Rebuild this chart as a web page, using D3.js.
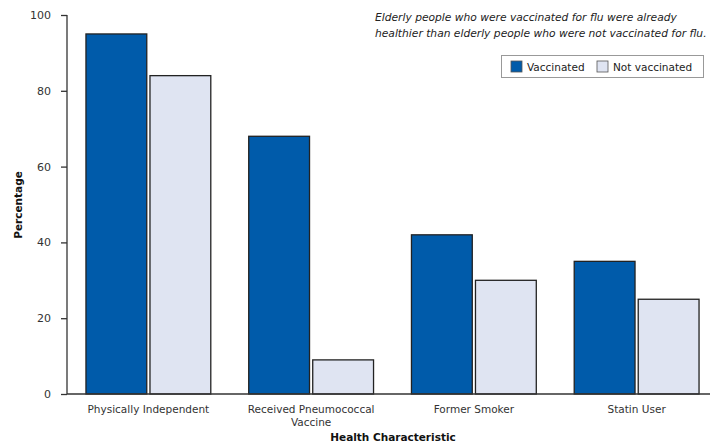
<!DOCTYPE html>
<html><head><meta charset="utf-8">
<script src="https://cdn.jsdelivr.net/npm/d3@7"></script>
<style>
body{margin:0;background:#fff;}
svg{display:block;font-family:"DejaVu Sans",Verdana,sans-serif;}
</style></head>
<body><svg id="c" width="710" height="444"></svg>
<script>
const categories = [["Physically Independent"], ["Received Pneumococcal","Vaccine"], ["Former Smoker"], ["Statin User"]];
const seriesNames = ["Vaccinated", "Not vaccinated"];
const vaccinated = [95, 68, 42, 35];
const notVaccinated = [84, 9, 30, 25];
const yTicks = [0, 20, 40, 60, 80, 100];
const colors = ["#005BAA", "#DFE4F2"];

const svg = d3.select("#c");
const y = d3.scaleLinear().domain([0, 100]).range([394, 15]);
const x0 = d3.scaleBand().domain(d3.range(categories.length)).range([67, 718]).paddingInner(0.233).paddingOuter(0.1165);
const x1 = d3.scaleBand().domain([0, 1]).range([0, x0.bandwidth()]).paddingInner(0.05);

const series = [vaccinated, notVaccinated];

// bars
categories.forEach((c, i) => {
  series.forEach((s, j) => {
    svg.append("rect")
      .attr("x", x0(i) + x1(j))
      .attr("y", y(s[i]))
      .attr("width", x1.bandwidth())
      .attr("height", y(0) - y(s[i]))
      .attr("fill", colors[j])
      .attr("stroke", "#222")
      .attr("stroke-width", 1.3);
  });
});

// y axis
const yAxis = d3.axisLeft(y).tickValues(yTicks).tickSize(6).tickPadding(10);
const gy = svg.append("g").attr("transform", "translate(67,0)").call(yAxis);
gy.select(".domain").attr("stroke", "#333").attr("stroke-width", 1.3).attr("d", "M0,15V394");
gy.selectAll(".tick line").attr("stroke", "#333").attr("stroke-width", 1.3);
gy.selectAll(".tick text").attr("fill", "#333").style("font-size", "11px").style("font-family", "DejaVu Sans, sans-serif");

// x axis line
svg.append("line").attr("x1", 67).attr("x2", 710).attr("y1", 394).attr("y2", 394)
  .attr("stroke", "#333").attr("stroke-width", 1.3);

// category labels
categories.forEach((lines, i) => {
  const t = svg.append("text")
    .attr("x", x0(i) + x0.bandwidth() / 2)
    .attr("y", 413)
    .attr("text-anchor", "middle")
    .attr("fill", "#333")
    .style("font-size", "10.5px");
  lines.forEach((l, k) => t.append("tspan").attr("x", x0(i) + x0.bandwidth() / 2).attr("dy", k ? 13 : 0).text(l));
});

// axis titles
svg.append("text").attr("x", 393).attr("y", 441).attr("text-anchor", "middle")
  .style("font-size", "10.5px").style("font-weight", "bold").attr("fill", "#111").text("Health Characteristic");
svg.append("text").attr("transform", "translate(22,205) rotate(-90)").attr("text-anchor", "middle")
  .style("font-size", "10.5px").style("font-weight", "bold").attr("fill", "#111").text("Percentage");

// annotation
const ann = ["Elderly people who were vaccinated for flu were already", "healthier than elderly people who were not vaccinated for flu."];
ann.forEach((l, k) => svg.append("text").attr("x", 375).attr("y", 21 + k * 16)
  .style("font-size", "10.7px").style("font-style", "italic").attr("fill", "#222").text(l));

// legend
const lg = svg.append("g");
lg.append("rect").attr("x", 501.5).attr("y", 55.5).attr("width", 202).attr("height", 22)
  .attr("fill", "#fff").attr("stroke", "#999");
const legX = [511, 597];
seriesNames.forEach((n, j) => {
  lg.append("rect").attr("x", legX[j]).attr("y", 61).attr("width", 11).attr("height", 11)
    .attr("fill", colors[j]).attr("stroke", "#555").attr("stroke-width", 0.8);
  lg.append("text").attr("x", legX[j] + 16).attr("y", 70.5).style("font-size", "10.5px").attr("fill", "#222").text(n);
});
</script></body></html>
